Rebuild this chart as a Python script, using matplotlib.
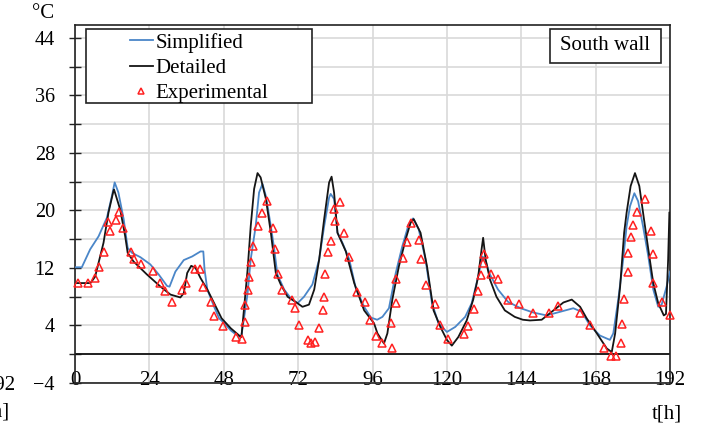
import matplotlib
matplotlib.use("Agg")
import matplotlib.pyplot as plt
from matplotlib.lines import Line2D
from matplotlib.patches import Rectangle

plt.rcParams['font.family'] = ['Liberation Serif', 'DejaVu Serif']

# ---- data ----
t_simplified = [0, 2.2, 4.9, 7.6, 10.3, 11.9, 12.8, 14.0, 15.7, 17.0, 18.4, 21.1, 24.3, 27.0,
                29.7, 30.5, 32.4, 35.1, 37.8, 40.5, 41.4, 41.8, 42.7, 44.9, 46.5, 48.0, 50.3,
                53.0, 53.7, 54.6, 55.7, 56.7, 58.3, 59.4, 60.5, 61.6, 63.2, 64.3, 65.3, 67.5,
                69.6, 71.8, 73.9, 76.6, 78.8, 80.4, 82.0, 82.5, 83.6, 84.7, 86.3, 88.5, 90.6,
                93.3, 95.5, 97.5, 99.2, 101.3, 103.5, 105.6, 107.7, 109.1, 110.9, 113.1, 115.2,
                117.3, 120.0, 122.7, 125.9, 128.0, 130.1, 131.5, 132.3, 133.9, 136.5, 139.7,
                143.8, 147.9, 152.2, 156.5, 160.8, 163.5, 166.2, 169.4, 172.6, 173.7, 175.3,
                176.9, 178.0, 179.1, 180.5, 181.7, 183.3, 185.0, 186.6, 188.2, 189.3, 190.9, 192.0]
simplified = [12.1, 12.1, 14.6, 16.4, 19.0, 22.0, 23.9, 22.5, 18.8, 14.8, 14.1, 13.5, 12.5, 11.1,
              9.5, 9.4, 11.5, 13.1, 13.6, 14.3, 14.3, 11.8, 9.0, 6.6, 5.0, 4.4, 3.3,
              2.4, 2.6, 5.2, 8.5, 13.2, 17.8, 22.5, 23.7, 22.0, 17.8, 14.6, 11.1, 9.0,
              7.8, 7.1, 8.0, 9.7, 13.2, 17.8, 21.8, 22.3, 21.6, 16.9, 15.5, 13.2, 9.2,
              6.6, 5.1, 4.8, 5.2, 6.4, 11.3, 15.0, 18.1, 18.9, 17.4, 13.2, 7.1,
              4.3, 3.1, 3.8, 5.2, 7.1, 10.8, 13.6, 13.2, 11.1, 9.0, 7.3,
              6.4, 5.8, 5.4, 5.9, 6.4, 5.9, 4.0, 2.6, 2.0, 2.9, 7.6,
              13.2, 17.8, 20.6, 22.4, 21.3, 17.8, 13.6, 9.0, 6.6, 6.9, 9.4, 11.5]

t_detailed = [0, 5.0, 6.5, 9.2, 10.8, 12.4, 12.6, 14.6, 16.2, 17.0, 18.9, 23.2, 27.6, 30.8, 34.0,
              35.1, 36.2, 37.5, 38.9, 40.5, 42.7, 44.9, 47.3, 50.3, 53.0, 53.7, 54.6, 55.7,
              56.7, 57.8, 58.9, 59.9, 61.6, 63.2, 64.8, 66.4, 68.6, 71.8, 73.4, 75.5, 77.2,
              78.8, 80.4, 82.0, 82.8, 83.6, 84.7, 87.4, 90.1, 93.3, 94.9, 96.5, 97.6, 99.7,
              100.8, 102.4, 104.5, 106.7, 108.3, 109.3, 111.5, 113.6, 115.7, 117.9, 120.0,
              121.6, 123.7, 126.4, 128.5, 130.1, 131.2, 131.7, 132.5, 133.9, 136.0, 138.7,
              141.9, 144.5, 146.8, 150.6, 154.4, 157.6, 160.3, 163.0, 165.1, 168.4, 171.6,
              173.2, 174.3, 175.9, 177.2, 178.0, 179.3, 180.7, 182.1, 183.6, 185.0, 186.6,
              188.2, 190.0, 190.7, 191.4, 191.8]
detailed = [9.9, 9.9, 10.8, 15.5, 19.7, 22.7, 22.9, 20.1, 16.4, 14.1, 12.9, 11.1, 9.4, 8.3, 7.9,
            8.5, 11.3, 12.3, 12.0, 10.6, 9.0, 7.1, 5.0, 3.6, 2.6, 2.4, 6.6, 11.8,
            17.8, 23.0, 25.2, 24.6, 21.6, 16.9, 11.3, 9.7, 8.0, 7.1, 6.6, 6.9, 9.0,
            13.2, 18.8, 23.9, 24.7, 22.5, 16.9, 14.3, 9.9, 6.1, 5.2, 4.3, 2.9, 1.5,
            2.9, 7.6, 12.2, 16.0, 18.3, 18.8, 16.9, 12.2, 6.1, 3.8, 2.0,
            1.2, 2.4, 4.7, 7.6, 10.8, 14.6, 16.2, 13.2, 10.4, 8.0, 6.1,
            5.2, 4.8, 4.7, 4.8, 6.1, 7.2, 7.6, 6.6, 5.0, 2.9, 0.8,
            0.3, 2.9, 9.4, 16.9, 19.7, 23.4, 25.2, 23.4, 18.8, 14.6, 9.9,
            7.1, 5.4, 5.6, 13.2, 19.7]

t_experimental = [1.1, 4.3, 6.5, 7.8, 9.5, 10.8, 11.4, 13.3, 14.1, 15.4, 18.1, 18.9, 21.4, 25.1,
                  27.4, 29.2, 31.4, 34.4, 35.7, 38.6, 40.2, 41.4, 43.8, 44.9, 47.6, 51.9, 53.8,
                  54.8, 54.9, 55.9, 56.2, 56.7, 57.5, 58.9, 60.2, 61.9, 64.0, 64.5, 65.5, 66.7,
                  70.0, 70.9, 72.4, 75.2, 76.0, 77.6, 78.8, 80.1, 80.3, 80.6, 81.8, 82.5, 83.6,
                  83.8, 85.4, 86.8, 88.3, 90.9, 93.5, 95.1, 97.1, 99.2, 102.1, 102.2, 103.5,
                  103.7, 105.9, 107.0, 108.3, 110.9, 111.5, 113.3, 116.1, 117.9, 120.3, 125.5,
                  126.9, 128.7, 129.9, 131.0, 131.7, 131.9, 134.1, 136.4, 139.7, 143.3, 147.9,
                  153.1, 155.7, 162.9, 166.2, 170.8, 172.9, 174.5, 176.1, 176.6, 177.3, 178.4,
                  178.6, 179.4, 180.2, 181.2, 183.9, 185.9, 186.4, 186.4, 189.3, 192.0]
experimental = [9.9, 9.9, 10.6, 12.2, 14.2, 18.4, 17.1, 18.7, 19.8, 17.6, 14.2, 13.2, 12.6, 11.6,
                9.9, 8.8, 7.3, 9.0, 9.9, 11.8, 11.8, 9.3, 7.2, 5.3, 3.9, 2.4, 2.1,
                4.5, 6.9, 9.0, 10.8, 12.8, 15.0, 17.9, 19.6, 21.3, 17.5, 14.6, 11.1, 9.0,
                7.6, 6.5, 4.0, 2.0, 1.5, 1.7, 3.7, 6.1, 7.9, 11.1, 14.2, 15.7, 20.2,
                18.5, 21.2, 16.9, 13.5, 8.7, 7.2, 4.7, 2.6, 1.5, 4.4, 0.9, 7.1,
                10.5, 13.4, 15.6, 18.2, 15.9, 13.2, 9.7, 7.0, 4.0, 2.1, 2.8,
                3.9, 6.3, 8.8, 11.0, 12.7, 13.9, 11.1, 10.4, 7.6, 7.0, 5.8,
                5.8, 6.7, 5.8, 4.0, 0.8, -0.2, -0.2, 1.5, 4.2, 7.7, 14.1,
                11.4, 16.3, 18.0, 19.8, 21.6, 17.2, 13.9, 9.9, 7.3, 5.4]

x_ticks = [0, 24, 48, 72, 96, 120, 144, 168, 192]
y_major = [-4, 4, 12, 20, 28, 36, 44]
y_minor = [0, 8, 16, 24, 32, 40]
series_labels = ["Simplified", "Detailed", "Experimental"]

# ---- figure ----
W, H = 705, 433
fig = plt.figure(figsize=(W / 100, H / 100), dpi=100)
ax = fig.add_axes([75 / W, 50 / H, 595 / W, 358 / H])

blue = '#4a86c8'
red = '#ff2020'
FS = 15

ax.set_xlim(0, 192)
ax.set_ylim(-4, 45.8)

ax.set_xticks(x_ticks)
ax.set_xticklabels([str(v) for v in x_ticks], fontsize=FS)
ax.set_yticks(y_major)
ax.set_yticklabels([str(v).replace('-', '\u2212') for v in y_major], fontsize=14.5)
ax.set_yticks(y_minor, minor=True)

ax.grid(True, which='both', axis='y', color='#d9d9d9', lw=1.2, zorder=0)
ax.grid(True, which='major', axis='x', color='#d9d9d9', lw=1.2, zorder=0)
ax.set_axisbelow(True)

ax.tick_params(axis='y', which='both', direction='inout', length=8, width=1,
               color='#222222', pad=10.5, left=True, right=False)
ax.tick_params(axis='x', which='both', length=0, pad=-8.5)

for s in ax.spines.values():
    s.set_color('#222222')
    s.set_linewidth(1.2)

ax.axhline(0, color='#111111', lw=1.3, zorder=2)

ax.plot(t_simplified, simplified, color=blue, lw=1.3, zorder=3)
ax.plot(t_detailed, detailed, color='#151515', lw=1.3, zorder=3)
ax.plot(t_experimental, experimental, linestyle='none', marker='^', markersize=5.5,
        markerfacecolor='none', markeredgecolor=red, markeredgewidth=1.1, zorder=4,
        clip_on=False)

# legend box
ax.add_patch(Rectangle((86 / W, 1 - 103 / H), 226 / W, 74 / H, transform=fig.transFigure,
                       facecolor='white', edgecolor='#222222', lw=1.2, zorder=5, clip_on=False))
handles = [Line2D([], [], color=blue, lw=1.3),
           Line2D([], [], color='#151515', lw=1.3),
           Line2D([], [], linestyle='none', marker='^', markersize=5, markerfacecolor='none',
                  markeredgecolor=red, markeredgewidth=1.1)]
leg = ax.legend(handles, series_labels, loc='center', bbox_to_anchor=(199 / W, 1 - 68 / H),
                bbox_transform=fig.transFigure, frameon=False, fontsize=FS,
                handlelength=1.1, handletextpad=0.15, labelspacing=0.28, borderpad=0.1)
leg.set_zorder(6)

# South wall box
ax.add_patch(Rectangle((550 / W, 1 - 63 / H), 111 / W, 34 / H, transform=fig.transFigure,
                       facecolor='white', edgecolor='#222222', lw=1.2, zorder=5, clip_on=False))
ax.text(605 / W, 1 - 46 / H, "South wall", transform=fig.transFigure, ha='center', va='center',
        fontsize=FS, zorder=6)

# unit labels
fig.text(43 / W, 1 - 14 / H, "°C", ha='center', va='center', fontsize=FS)
fig.text(667 / W, 1 - 414 / H, "t[h]", ha='center', va='center', fontsize=FS)

# cut-off labels of the neighbouring chart at the left edge
fig.text(15 / W, 1 - 385 / H, "192", ha='right', va='center', fontsize=FS)
fig.text(10 / W, 1 - 412 / H, "t[h]", ha='right', va='center', fontsize=FS)

fig.savefig("out.png", dpi=100)
